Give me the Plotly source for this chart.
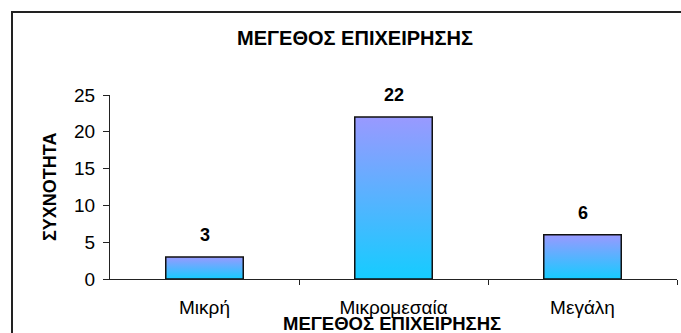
import plotly.graph_objects as go

categories = ["Μικρή", "Μικρομεσαία", "Μεγάλη"]
values = [3, 22, 6]
y_ticks = [0, 5, 10, 15, 20, 25]
chart_title = "ΜΕΓΕΘΟΣ ΕΠΙΧΕΙΡΗΣΗΣ"
x_title = "ΜΕΓΕΘΟΣ ΕΠΙΧΕΙΡΗΣΗΣ"
y_title = "ΣΥΧΝΟΤΗΤΑ"

FONT = "Arial, Liberation Sans, sans-serif"
BAR_W = 0.41
TOP_C = "#9999FF"
BOT_C = "#15CCFF"

fig = go.Figure()
for i, (c, v) in enumerate(zip(categories, values)):
    x0, x1 = i - BAR_W / 2, i + BAR_W / 2
    fig.add_trace(go.Scatter(
        x=[x0, x0, x1, x1, x0], y=[0, v, v, 0, 0],
        mode="lines", fill="toself",
        fillgradient=dict(type="vertical", colorscale=[[0, BOT_C], [1, TOP_C]]),
        line=dict(color="#111111", width=1.5),
        name=c, showlegend=False, hoverinfo="skip",
    ))
    fig.add_annotation(x=i, y=v, text=f"<b>{v}</b>", showarrow=False,
                       yshift=22, yanchor="middle",
                       font=dict(family=FONT, size=18, color="black"))

W, H = 681, 333
L, R, T, B = 110, 4, 95, 54
pw, ph = W - L - R, H - T - B

fig.update_layout(
    width=W, height=H,
    margin=dict(l=L, r=R, t=T, b=B),
    paper_bgcolor="white", plot_bgcolor="white",
    font=dict(family=FONT, size=19, color="black"),
    title=dict(text=f"<b>{chart_title}</b>", xref="container", yref="container",
               x=355 / W, y=1 - 38 / H, xanchor="center", yanchor="middle",
               font=dict(family=FONT, size=20, color="black")),
    xaxis=dict(range=[-0.5, 2.5], tickmode="array", tickvals=list(range(len(categories))),
               ticktext=categories, ticks="", showgrid=False, zeroline=False,
               showline=True, linecolor="#222222", linewidth=1.2,
               ticklabelstandoff=11,
               minor=dict(tickmode="array", tickvals=[0.5, 1.5, 2.5], ticks="outside",
                          ticklen=5, tickcolor="#222222", tickwidth=1.2, showgrid=False),
               fixedrange=True),
    yaxis=dict(range=[0, 25], tickmode="array", tickvals=y_ticks, ticks="outside",
               ticklen=6, tickcolor="#222222", tickwidth=1.2, showgrid=False,
               zeroline=False, showline=True, linecolor="#222222", linewidth=1.2,
               ticklabelstandoff=4, fixedrange=True),
    shapes=[dict(type="rect", xref="paper", yref="paper",
                 x0=(12 - L) / pw, x1=(W + 20 - L) / pw,
                 y0=(H - B - (H + 20)) / ph, y1=(H - B - 12) / ph,
                 line=dict(color="#222222", width=2), layer="below")],
    annotations=list(fig.layout.annotations) + [
        dict(text=f"<b>{x_title}</b>", xref="paper", yref="paper",
             x=(392 - L) / pw, y=(H - B - 323) / ph, xanchor="center", yanchor="middle",
             showarrow=False, font=dict(family=FONT, size=18.5, color="black")),
        dict(text=f"<b>{y_title}</b>", xref="paper", yref="paper", textangle=-90,
             x=(50 - L) / pw, y=(H - B - 187) / ph, xanchor="center", yanchor="middle",
             showarrow=False, font=dict(family=FONT, size=18, color="black")),
    ],
)

fig.write_html("out.html", config={"displayModeBar": False},
               post_script="document.body.style.margin='0';")
